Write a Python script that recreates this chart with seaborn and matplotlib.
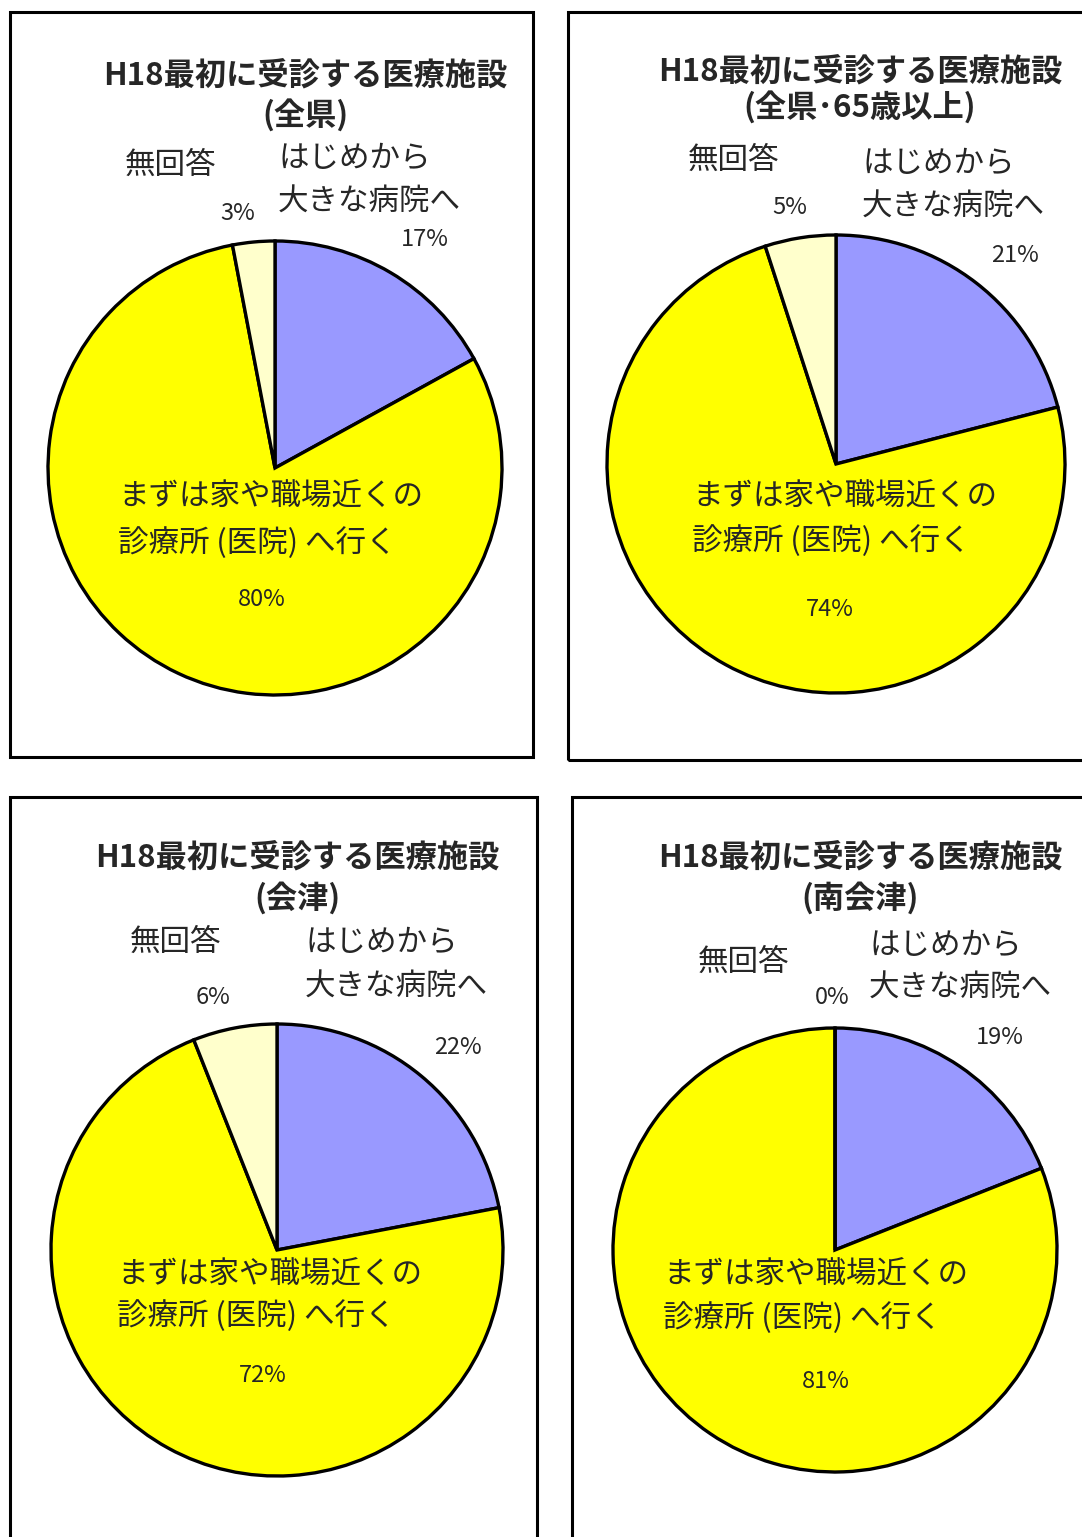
import matplotlib.pyplot as plt
import seaborn as sns
from matplotlib.patches import Rectangle

sns.set_theme(style="white")
plt.rcParams['font.family'] = ['Noto Sans CJK JP', 'DejaVu Sans']

# data
title_main = "H18最初に受診する医療施設"
regions = ["(全県)", "(全県･65歳以上)", "(会津)", "(南会津)"]
cat_hospital = ["はじめから", "大きな病院へ"]
cat_clinic = ["まずは家や職場近くの", "診療所 (医院) へ行く"]
cat_none = "無回答"
big_hospital = [17, 21, 22, 19]
clinic = [80, 74, 72, 81]
no_answer = [3, 5, 6, 0]

colors = ["#9999FF", "#FFFF00", "#FFFFCC"]

W, H = 1082, 1537
Y = lambda py: H - py

# layout in pixels (from top-left of image)
panels = [
    dict(box=(10, 12, 533, 757), c=(275, 468), r=227, t=(305, 75, 115),
         none=(170, 165), hosp=(278, 158, 202), pn=(238, 213), ph=(425, 240),
         clin=(118, 497, 543), pc=(262, 600)),
    dict(box=(568, 12, 1095, 760), c=(836, 464), r=229, t=(860, 72, 107),
         none=(733, 160), hosp=(862, 163, 207), pn=(790, 207), ph=(1015, 256),
         clin=(692, 497, 541), pc=(830, 610)),
    dict(box=(10, 797, 537, 1550), c=(277, 1250), r=226, t=(297, 858, 898),
         none=(175, 942), hosp=(305, 942, 987), pn=(213, 997), ph=(458, 1047),
         clin=(117, 1275, 1316), pc=(263, 1375)),
    dict(box=(572, 797, 1095, 1550), c=(835, 1250), r=222, t=(860, 858, 898),
         none=(743, 962), hosp=(869, 945, 988), pn=(832, 997), ph=(1000, 1037),
         clin=(663, 1275, 1318), pc=(826, 1382)),
]

fig = plt.figure(figsize=(W / 100, H / 100), dpi=100)
ax = fig.add_axes([0, 0, 1, 1])

for i, p in enumerate(panels):
    x0, y0, x1, y1 = p['box']
    ax.add_patch(Rectangle((x0, Y(y1)), x1 - x0, y1 - y0, fill=False,
                           edgecolor='black', linewidth=2.2, zorder=1))
    vals = [big_hospital[i], clinic[i], no_answer[i]]
    ax.pie(vals, colors=colors, startangle=90, counterclock=False,
           center=(p['c'][0], Y(p['c'][1])), radius=p['r'], frame=True,
           wedgeprops=dict(edgecolor='black', linewidth=2.4))

    tx, ty1, ty2 = p['t']
    ax.text(tx, Y(ty1), title_main, ha='center', va='center', fontsize=22.5, fontweight='bold')
    ax.text(tx, Y(ty2), regions[i], ha='center', va='center', fontsize=22.5, fontweight='bold')

    ax.text(p['none'][0], Y(p['none'][1]), cat_none, ha='center', va='center', fontsize=22)
    hx, hy1, hy2 = p['hosp']
    ax.text(hx, Y(hy1), cat_hospital[0], ha='left', va='center', fontsize=22)
    ax.text(hx, Y(hy2), cat_hospital[1], ha='left', va='center', fontsize=22)
    cx, cy1, cy2 = p['clin']
    ax.text(cx, Y(cy1), cat_clinic[0], ha='left', va='center', fontsize=22)
    ax.text(cx, Y(cy2), cat_clinic[1], ha='left', va='center', fontsize=22)

    ax.text(p['pn'][0], Y(p['pn'][1]), f"{no_answer[i]}%", ha='center', va='center', fontsize=17)
    ax.text(p['ph'][0], Y(p['ph'][1]), f"{big_hospital[i]}%", ha='center', va='center', fontsize=17)
    ax.text(p['pc'][0], Y(p['pc'][1]), f"{clinic[i]}%", ha='center', va='center', fontsize=17)

ax.set_xlim(0, W)
ax.set_ylim(0, H)
ax.set_aspect('auto')
ax.axis('off')

fig.savefig('out.png', dpi=100, facecolor='white')
